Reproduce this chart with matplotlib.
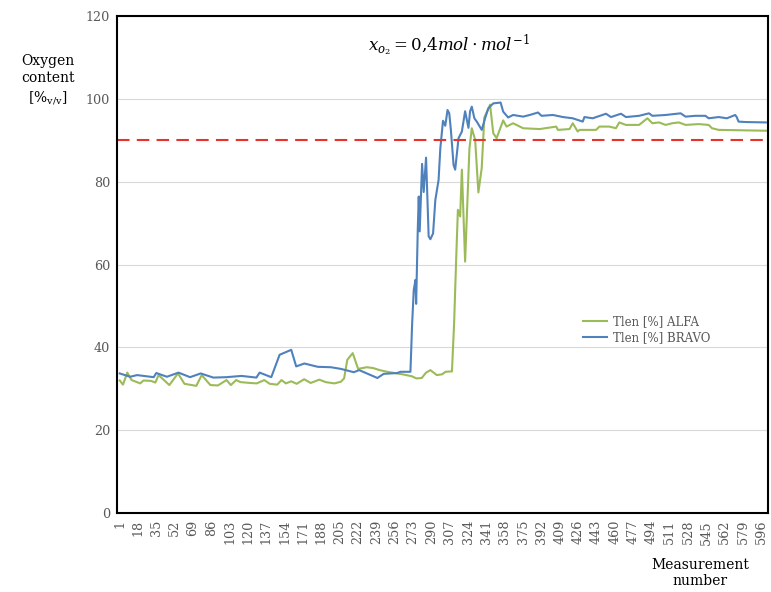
import matplotlib
matplotlib.use("Agg")
import matplotlib.pyplot as plt

plt.rcParams['font.family'] = 'DejaVu Serif'
plt.rcParams['mathtext.fontset'] = 'dejavuserif'

# ALFA series: measurement number / oxygen content [%]
alfa_n = [1, 4, 8, 12, 20, 23, 30, 34, 37, 47, 55, 61, 72, 77, 85, 92, 100, 104,
          109, 113, 122, 128, 135, 140, 147, 151, 155, 160, 165, 172, 178, 186,
          192, 200, 206, 209, 212, 217, 222, 230, 236, 242, 249, 258, 263, 272,
          276, 281, 285, 289, 295, 300, 303, 309, 311, 313, 314.5, 316.6, 318.2,
          321.2, 325.2, 327.4, 330.5, 333.5, 336.6, 339, 343.6, 344.3, 347.3,
          350.4, 356.5, 359.6, 365.7, 375, 390.4, 405.7, 407.2, 418, 421, 425.6,
          427.2, 442.6, 445.7, 454.9, 461, 464.1, 470.3, 482.5, 490.2, 494.8,
          501, 507.1, 513.2, 519.4, 525.6, 537.8, 547, 550.1, 556.3, 600]
alfa_v = [32.0, 31.0, 33.9, 32.1, 31.3, 32.0, 31.9, 31.5, 33.3, 30.9, 33.7, 31.2,
          30.7, 33.3, 30.9, 30.8, 32.1, 30.9, 32.1, 31.6, 31.4, 31.3, 32.1, 31.2,
          31.0, 32.1, 31.3, 31.8, 31.2, 32.3, 31.4, 32.2, 31.6, 31.3, 31.7, 32.5,
          37.0, 38.6, 34.8, 35.2, 35.0, 34.5, 34.1, 33.7, 33.5, 33.0, 32.5, 32.6,
          33.9, 34.5, 33.3, 33.5, 34.1, 34.2, 45.8, 62.0, 73.2, 71.6, 82.9, 60.7,
          88.0, 92.9, 90.1, 77.4, 83.3, 95.5, 98.1, 98.6, 91.7, 90.5, 94.8, 93.3,
          94.1, 92.9, 92.7, 93.3, 92.5, 92.7, 94.1, 92.1, 92.5, 92.5, 93.3, 93.3,
          92.9, 94.3, 93.7, 93.7, 95.3, 94.1, 94.3, 93.7, 94.1, 94.3, 93.7, 93.9,
          93.7, 92.9, 92.5, 92.3]

# BRAVO series
bravo_n = [1, 10.6, 17.1, 26.3, 32.5, 34.9, 44.7, 55.5, 66.2, 76.1, 87.8, 100,
           113.9, 127.7, 130.7, 141.5, 149.2, 160, 164.6, 172.2, 184.6, 196.8,
           206, 218, 223, 239.9, 245.7, 258.3, 261.3, 270.5, 272.1, 273.6, 275.2,
           275.8, 277.3, 278.2, 279.1, 281.3, 282.8, 285, 287.4, 289, 291.5,
           293.6, 296.6, 298.2, 300.7, 302.8, 304.9, 306.5, 308, 310.5, 312,
           315.1, 318.2, 321.2, 324.3, 325.8, 327.4, 329.8, 332, 336.6, 339.7,
           342.7, 347.3, 354.1, 356.5, 361.1, 365.7, 375, 381.1, 388.8, 392,
           402.6, 411.9, 421, 430.3, 431.8, 439.5, 451.8, 456.4, 465.7, 470.3,
           482.5, 491.7, 494.8, 507.1, 521, 525.6, 534.8, 544, 547, 556.3, 563.9,
           571.6, 573, 574.7, 581, 600]
bravo_v = [33.7, 32.9, 33.3, 33.0, 32.8, 33.8, 32.9, 33.9, 32.8, 33.7, 32.7, 32.8,
           33.1, 32.7, 33.9, 32.8, 38.2, 39.4, 35.4, 36.1, 35.3, 35.2, 34.8, 34.0,
           34.5, 32.6, 33.6, 33.8, 34.1, 34.1, 45.8, 53.9, 56.3, 50.5, 68.4, 76.4,
           68.0, 84.3, 77.5, 85.8, 66.8, 66.1, 67.5, 75.6, 80.4, 88.0, 94.7, 93.5,
           97.3, 96.5, 92.5, 84.0, 82.9, 90.5, 92.1, 97.0, 93.0, 97.0, 98.1, 95.3,
           94.5, 92.5, 95.3, 97.7, 98.9, 99.1, 96.9, 95.5, 96.1, 95.7, 96.1, 96.7,
           95.9, 96.1, 95.6, 95.3, 94.5, 95.6, 95.3, 96.4, 95.6, 96.4, 95.6, 95.9,
           96.5, 95.9, 96.1, 96.5, 95.7, 95.9, 95.9, 95.3, 95.6, 95.3, 96.1, 95.6,
           94.5, 94.4, 94.3]

limit = 90
xticks = list(range(1, 600, 17))

fig = plt.figure(figsize=(7.71, 5.92), dpi=100)
ax = fig.add_axes([0.1518, 0.1334, 0.8443, 0.8396])

ax.plot(alfa_n, alfa_v, color='#9bbb59', lw=1.5, label='Tlen [%] ALFA')
ax.plot(bravo_n, bravo_v, color='#4f81bd', lw=1.5, label='Tlen [%] BRAVO')
ax.axhline(limit, color='#e8322d', lw=1.5, ls=(0, (6, 3.5)))

ax.set_xlim(-1.5, 602)
ax.set_ylim(0, 120)
ax.set_yticks(range(0, 121, 20))
ax.set_xticks(xticks)
ax.set_xticklabels([str(t) for t in xticks], rotation=90)
ax.tick_params(length=0, labelsize=9.2, colors='#595959', pad=5)
ax.yaxis.grid(True, color='#d9d9d9', lw=0.8)
ax.set_axisbelow(True)
for s in ax.spines.values():
    s.set_color('black')
    s.set_linewidth(1.5)

ax.text(0.51, 113, r'$x_{o_2}=0{,}4mol\cdot mol^{-1}$', transform=ax.get_yaxis_transform(),
        ha='center', va='center', fontsize=12)

ax.legend(loc='upper left', bbox_to_anchor=(0.7, 0.42), frameon=False,
          fontsize=8.5, labelcolor='#595959', handlelength=2.0, handletextpad=0.5,
          labelspacing=0.3)

fig.text(48 / 771, 1 - 80 / 592, 'Oxygen\ncontent\n' + r'[%$_{\mathrm{v/v}}$]',
         ha='center', va='center', fontsize=10, linespacing=1.3)
fig.text(700 / 771, 1 - 573 / 592, 'Measurement\nnumber', ha='center', va='center',
         fontsize=10, linespacing=1.2)

fig.savefig('out.png', dpi=100)
